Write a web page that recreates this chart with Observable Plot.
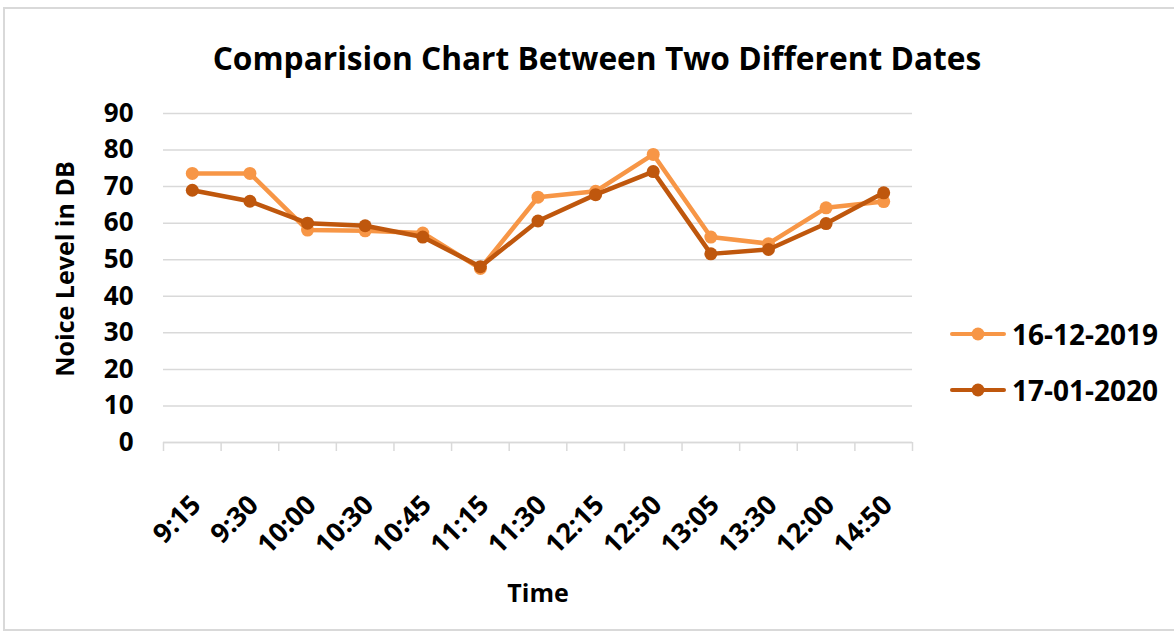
<!DOCTYPE html>
<html>
<head>
<meta charset="utf-8">
<script src="https://cdn.jsdelivr.net/npm/d3@7"></script>
<script src="https://cdn.jsdelivr.net/npm/@observablehq/plot@0.6"></script>
<style>
  html, body { margin: 0; padding: 0; background: #fff; }
  body { width: 1174px; height: 637px; overflow: hidden; position: relative; font-family: "Open Sans", sans-serif; }
  #frame { position: absolute; left: 3px; top: 7px; width: 1190px; height: 624px; border: 2px solid #d9d9d9; box-sizing: border-box; }
  #title { position: absolute; left: 597px; top: 57px; transform: translate(-50%, -50%); font-weight: bold; font-size: 31.7px; white-space: nowrap; color: #000; }
  #chart { position: absolute; left: 0; top: 0; }
  #legend { position: absolute; left: 950px; top: 0; }
  .item { position: absolute; left: 0; display: flex; align-items: center; white-space: nowrap; font-weight: bold; font-size: 28px; color: #000; transform: translateY(-50%); }
  .item svg { margin-right: 6px; }
</style>
</head>
<body>
<div id="frame"></div>
<div id="chart"></div>
<div id="title">Comparision Chart Between Two Different Dates</div>
<div id="legend"></div>
<script>
// ---- data ----
const times = ["9:15", "9:30", "10:00", "10:30", "10:45", "11:15", "11:30", "12:15", "12:50", "13:05", "13:30", "12:00", "14:50"];
const seriesNames = ["16-12-2019", "17-01-2020"];
const dec2019 = [73.6, 73.6, 58.1, 57.9, 57.3, 47.6, 67.1, 68.7, 78.8, 56.2, 54.4, 64.2, 65.9];
const jan2020 = [69.0, 66.0, 60.0, 59.3, 56.2, 48.1, 60.6, 67.8, 74.1, 51.6, 52.8, 59.9, 68.3];
const yTicks = [0, 10, 20, 30, 40, 50, 60, 70, 80, 90];
const colors = ["#F79646", "#BF570D"];

const rows = [];
[dec2019, jan2020].forEach((vals, s) => vals.forEach((v, i) => rows.push({i, v, series: seriesNames[s]})));
const idx = times.map((_, i) => i);
const bounds = d3.range(times.length + 1).map(i => i - 0.5);

const marks = [
  Plot.gridY({ticks: yTicks, stroke: "#d9d9d9", strokeOpacity: 1, strokeWidth: 1.5}),
  Plot.ruleY([0], {stroke: "#d9d9d9", strokeWidth: 1.5}),
  Plot.axisX({ticks: bounds, tickSize: 9, tickFormat: () => "", stroke: "#d9d9d9", strokeWidth: 1.5}),
  Plot.axisX({ticks: idx, tickSize: 0, tickPadding: 58, dx: 4, tickRotate: -45, tickFormat: i => times[i], fontSize: 27, fontWeight: "bold"}),
  Plot.axisY({ticks: yTicks, tickSize: 0, tickPadding: 30, fontSize: 26, fontWeight: "bold"}),
  Plot.text(["Noice Level in DB"], {frameAnchor: "left", textAnchor: "middle", rotate: -90, dx: -98, dy: -9, fontSize: 25, fontWeight: "bold", fill: "#000"}),
  Plot.text(["Time"], {frameAnchor: "bottom", lineAnchor: "middle", dy: 151, fontSize: 25, fontWeight: "bold", fill: "#000"})
];
seriesNames.forEach(name => {
  const d = rows.filter(r => r.series === name);
  marks.push(Plot.line(d, {x: "i", y: "v", stroke: "series", strokeWidth: 4.5}));
  marks.push(Plot.dot(d, {x: "i", y: "v", fill: "series", r: 6.5}));
});

const chart = Plot.plot({
  width: 1174,
  height: 637,
  marginTop: 113,
  marginBottom: 195,
  marginLeft: 163,
  marginRight: 262,
  x: {type: "linear", domain: [-0.5, times.length - 0.5], label: null},
  y: {domain: [0, 90], label: null},
  color: {domain: seriesNames, range: colors},
  style: {fontFamily: "Open Sans", color: "#000", background: "transparent", overflow: "visible"},
  marks
});
document.getElementById("chart").appendChild(chart);

// legend
const legend = document.getElementById("legend");
const legendY = [334, 390];
seriesNames.forEach((name, k) => {
  const div = document.createElement("div");
  div.className = "item";
  div.style.top = legendY[k] + "px";
  div.innerHTML = `<svg width="56" height="16"><line x1="2" y1="8" x2="54" y2="8" stroke="${colors[k]}" stroke-width="4" stroke-linecap="round"/><circle cx="28" cy="8" r="6.5" fill="${colors[k]}"/></svg><span>${name}</span>`;
  legend.appendChild(div);
});
</script>
</body>
</html>
